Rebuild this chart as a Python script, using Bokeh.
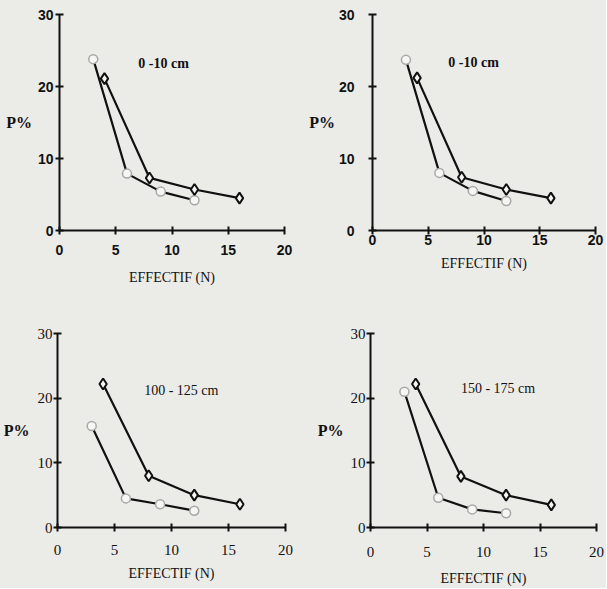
from bokeh.plotting import figure
from bokeh.layouts import column, row
from bokeh.models import Range1d, Label, FixedTicker
from bokeh.embed import file_html
from bokeh.resources import INLINE

# ---- data ----
circ_x = [3, 6, 9, 12]
diam_x = [4, 8, 12, 16]

p1_circ = [23.8, 7.9, 5.4, 4.2]
p1_diam = [21.1, 7.3, 5.7, 4.5]
p2_circ = [23.7, 8.0, 5.5, 4.1]
p2_diam = [21.2, 7.4, 5.7, 4.5]
p3_circ = [15.7, 4.5, 3.6, 2.6]
p3_diam = [22.2, 8.0, 5.0, 3.6]
p4_circ = [21.0, 4.6, 2.8, 2.2]
p4_diam = [22.2, 7.9, 5.0, 3.5]

titles = ["0 -10 cm", "0 -10 cm", "100 - 125 cm", "150 - 175 cm"]
x_ticks = [0, 5, 10, 15, 20]
y_ticks = [0, 10, 20, 30]
x_label = "EFFECTIF (N)"
y_label = "P%"

BG = "#ebebe8"


def make(circ, diam, title, title_pos, w, h, borders, tick_font, tick_bold,
         tick_size, xstand, ystand, xlab_stand, ylab_stand, title_style):
    left, right, top, bottom = borders
    p = figure(width=w, height=h, x_range=Range1d(0, 20), y_range=Range1d(0, 30),
               output_backend="svg", toolbar_location=None,
               min_border_left=left, min_border_right=right,
               min_border_top=top, min_border_bottom=bottom)
    p.background_fill_color = BG
    p.border_fill_color = BG
    p.outline_line_color = None
    p.grid.visible = False
    for ax, ticks in ((p.xaxis[0], x_ticks), (p.yaxis[0], y_ticks)):
        ax.ticker = FixedTicker(ticks=ticks)
        ax.axis_line_width = 2
        ax.axis_line_color = "#111111"
        ax.major_tick_line_width = 2
        ax.major_tick_line_color = "#111111"
        ax.major_tick_in = 4
        ax.major_tick_out = 4
        ax.minor_tick_line_color = None
        ax.major_label_text_font = tick_font
        ax.major_label_text_font_style = "bold" if tick_bold else "normal"
        ax.major_label_text_font_size = tick_size
        ax.major_label_text_color = "#111111"
        ax.axis_label_text_font = "Liberation Serif"
        ax.axis_label_text_font_style = "normal"
        ax.axis_label_text_font_size = "14px"
        ax.axis_label_text_color = "#111111"
    p.xaxis[0].major_label_standoff = xstand
    p.yaxis[0].major_label_standoff = ystand
    p.xaxis[0].axis_label = x_label
    p.yaxis[0].axis_label = y_label
    p.xaxis[0].axis_label_standoff = xlab_stand
    p.yaxis[0].axis_label_standoff = ylab_stand
    p.yaxis[0].axis_label_orientation = "horizontal"
    p.yaxis[0].axis_label_text_font_style = "bold"
    p.yaxis[0].axis_label_text_font_size = "16px"

    p.line(circ_x, circ, line_color="#111111", line_width=2.2)
    p.line(diam_x, diam, line_color="#111111", line_width=2.2)
    p.scatter(circ_x, circ, marker="circle", size=9, fill_color="#f6f6f4",
              line_color="#a8a8a8", line_width=1.5)
    p.scatter(diam_x, diam, marker="diamond", size=11, fill_color="#f6f6f4",
              line_color="#111111", line_width=2)
    p.add_layout(Label(x=title_pos[0], y=title_pos[1], text=title,
                       text_font="Liberation Serif", text_font_size="14px",
                       text_font_style=title_style, text_baseline="middle",
                       text_color="#111111"))
    return p


p1 = make(p1_circ, p1_diam, titles[0], (7.0, 23.2), 300, 300, (59, 16, 13, 70),
          "Liberation Sans", True, "14px", 10, 2, 12, 3, "bold")
p2 = make(p2_circ, p2_diam, titles[1], (6.8, 23.3), 306, 300, (72, 11, 14, 68),
          "Liberation Sans", True, "14px", 0, 14, 8, 1, "bold")
p3 = make(p3_circ, p3_diam, titles[2], (7.6, 21.2), 300, 288, (54, 15, 32, 56),
          "Liberation Serif", False, "15px", 13, 1, 8, 5, "normal")
p4 = make(p4_circ, p4_diam, titles[3], (8.0, 21.5), 306, 288, (70, 10, 33, 53),
          "Liberation Serif", False, "15px", 15, 1, 11, 4, "normal")

bgstyle = {"background-color": BG}
layout = column(row(p1, p2, spacing=0, styles=bgstyle),
                row(p3, p4, spacing=0, styles=bgstyle),
                spacing=0, styles=bgstyle)
open("out.html", "w").write(file_html(layout, INLINE))
